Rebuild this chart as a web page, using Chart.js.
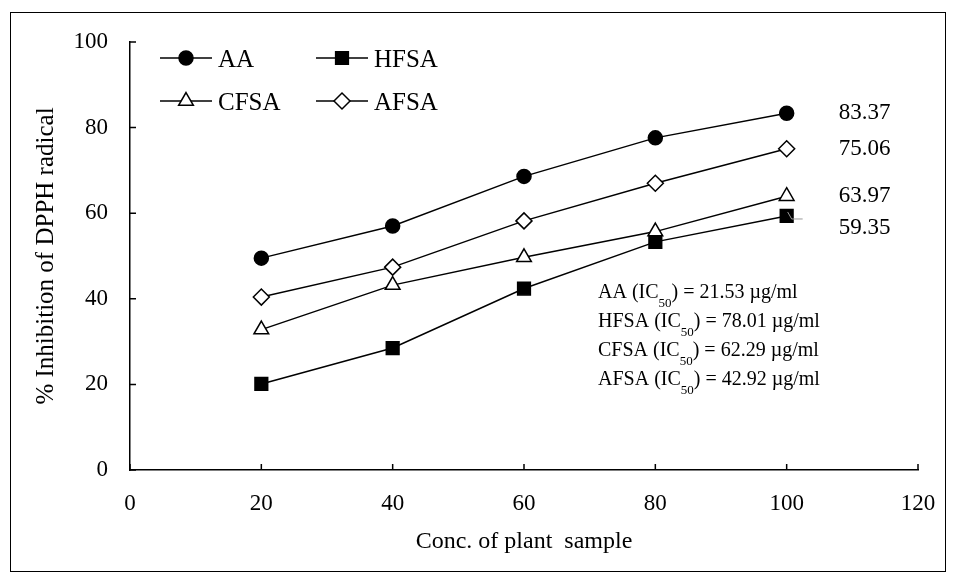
<!DOCTYPE html>
<html>
<head>
<meta charset="utf-8">
<script src="https://cdn.jsdelivr.net/npm/chart.js"></script>
<style>
  html, body { margin: 0; padding: 0; background: #fff; }
  #wrap { width: 956px; height: 581px; }
</style>
</head>
<body>
<div id="wrap"><canvas id="myChart" width="956" height="581"></canvas></div>
<script>
const concentrations = [20, 40, 60, 80, 100];
const aaValues = [49.5, 57.0, 68.6, 77.6, 83.37];
const hfsaValues = [20.1, 28.5, 42.4, 53.3, 59.35];
const cfsaValues = [32.8, 43.2, 49.7, 55.7, 63.97];
const afsaValues = [40.4, 47.4, 58.2, 67.0, 75.06];
const endLabels = ['83.37', '59.35', '63.97', '75.06'];
const ic50Lines = [
  ['AA (IC', ') = 21.53 \u00b5g/ml'],
  ['HFSA (IC', ') = 78.01 \u00b5g/ml'],
  ['CFSA (IC', ') = 62.29 \u00b5g/ml'],
  ['AFSA (IC', ') = 42.92 \u00b5g/ml'],
];

const FONT = '"Liberation Serif", "Times New Roman", serif';

const toXY = (vals) => vals.map((v, i) => ({ x: concentrations[i], y: v }));

function series(label, vals, style, radius, fill, order) {
  return {
    label,
    data: toXY(vals),
    borderColor: '#000',
    borderWidth: 1.5,
    pointStyle: style,
    pointRadius: radius,
    pointHoverRadius: radius,
    pointBackgroundColor: fill,
    pointBorderColor: '#000',
    pointBorderWidth: 1.5,
    tension: 0,
    order,
  };
}

// extra drawing: frame, inside ticks, legend, end labels, IC50 note
const decorations = {
  id: 'decorations',
  afterDraw(chart) {
    const ctx = chart.ctx;
    const xs = chart.scales.x;
    const ys = chart.scales.y;
    ctx.save();

    // outer frame
    ctx.strokeStyle = '#000';
    ctx.lineWidth = 1;
    ctx.strokeRect(10.5, 12.5, 935, 559);

    // inside ticks
    ctx.lineWidth = 1.5;
    ctx.beginPath();
    xs.ticks.forEach((t) => {
      const px = xs.getPixelForValue(t.value);
      ctx.moveTo(px, xs.top);
      ctx.lineTo(px, xs.top - 6);
    });
    ys.ticks.forEach((t) => {
      const py = ys.getPixelForValue(t.value);
      ctx.moveTo(ys.right, py);
      ctx.lineTo(ys.right + 6, py);
    });
    ctx.stroke();

    // legend (2 x 2)
    const cells = [[160, 58], [316, 58], [160, 101], [316, 101]];
    ctx.font = '25px ' + FONT;
    ctx.textBaseline = 'middle';
    ctx.textAlign = 'left';
    chart.data.datasets.forEach((ds, k) => {
      const [lx, ly] = cells[k];
      ctx.strokeStyle = '#000';
      ctx.lineWidth = 1.5;
      ctx.beginPath();
      ctx.moveTo(lx, ly);
      ctx.lineTo(lx + 52, ly);
      ctx.stroke();
      ctx.fillStyle = ds.pointBackgroundColor;
      Chart.helpers.drawPoint(ctx, {
        pointStyle: ds.pointStyle,
        radius: ds.pointRadius,
        borderWidth: 1.5,
        rotation: 0,
      }, lx + 26, ly);
      ctx.fillStyle = '#000';
      ctx.fillText(ds.label, lx + 58, ly + 2);
    });

    // end value labels
    ctx.font = '23px ' + FONT;
    chart.data.datasets.forEach((ds, di) => {
      const meta = chart.getDatasetMeta(di);
      const pt = meta.data[meta.data.length - 1];
      const dy = ds.label === 'HFSA' ? 12 : 0;
      ctx.fillStyle = '#000';
      ctx.fillText(endLabels[di], pt.x + 52, pt.y + dy);
      if (ds.label === 'HFSA') {
        ctx.strokeStyle = '#999';
        ctx.lineWidth = 1;
        ctx.beginPath();
        ctx.moveTo(pt.x + 1, pt.y - 4);
        ctx.lineTo(pt.x + 5, pt.y + 3);
        ctx.lineTo(pt.x + 16, pt.y + 3);
        ctx.stroke();
      }
    });

    // IC50 note
    ctx.textBaseline = 'alphabetic';
    ic50Lines.forEach((parts, i) => {
      const bx = 598;
      const by = 298 + i * 29;
      ctx.font = '20px ' + FONT;
      ctx.fillText(parts[0], bx, by);
      let w = ctx.measureText(parts[0]).width;
      ctx.font = '13px ' + FONT;
      ctx.fillText('50', bx + w, by + 9);
      w += ctx.measureText('50').width;
      ctx.font = '20px ' + FONT;
      ctx.fillText(parts[1], bx + w, by);
    });

    ctx.restore();
  },
};

const config = {
  type: 'line',
  data: {
    datasets: [
      series('AA', aaValues, 'circle', 7, '#000', 1),
      series('HFSA', hfsaValues, 'rect', 9, '#000', 4),
      series('CFSA', cfsaValues, 'triangle', 8.5, '#fff', 2),
      series('AFSA', afsaValues, 'rectRot', 8, '#fff', 3),
    ],
  },
  options: {
    responsive: false,
    animation: false,
    layout: { padding: { top: 42, right: 38, left: 0, bottom: 0 } },
    plugins: {
      legend: { display: false },
      tooltip: { enabled: false },
    },
    scales: {
      x: {
        type: 'linear',
        min: 0,
        max: 120,
        ticks: { stepSize: 20, color: '#000', font: { family: FONT, size: 23 }, padding: 20, maxRotation: 0 },
        grid: { display: false, drawTicks: false },
        border: { display: true, color: '#000', width: 1.5 },
        title: {
          display: true,
          text: 'Conc. of plant  sample',
          color: '#000',
          font: { family: FONT, size: 24 },
          padding: { top: 0, bottom: 25 },
        },
        afterFit(scale) { scale.height = 111; },
      },
      y: {
        min: 0,
        max: 100,
        ticks: { stepSize: 20, color: '#000', font: { family: FONT, size: 23 }, padding: 22 },
        grid: { display: false, drawTicks: false },
        border: { display: true, color: '#000', width: 1.5 },
        title: {
          display: true,
          text: '% Inhibition of DPPH radical',
          color: '#000',
          font: { family: FONT, size: 25 },
          padding: { top: 31, bottom: 0 },
        },
        afterFit(scale) { scale.width = 130; },
      },
    },
  },
  plugins: [decorations],
};

new Chart(document.getElementById('myChart').getContext('2d'), config);
</script>
</body>
</html>
